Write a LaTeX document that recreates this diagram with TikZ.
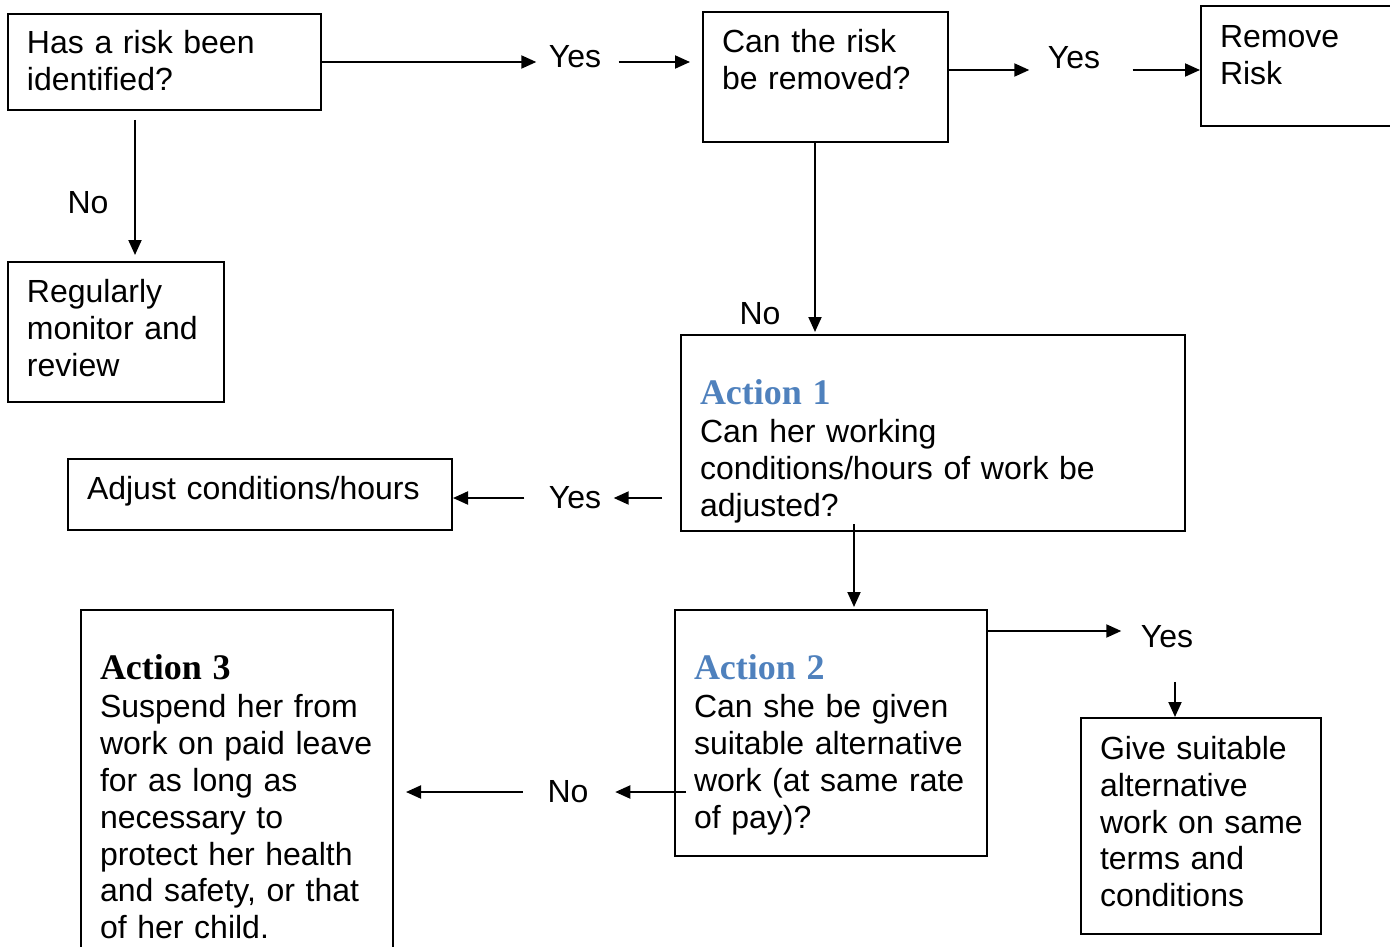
\documentclass[tikz,border=0pt]{standalone}
\usepackage{fontspec}
\setmainfont{Liberation Sans}
\newfontfamily\headfont{Liberation Serif}
\usetikzlibrary{arrows.meta}
\definecolor{actblue}{HTML}{4F81BD}
\newcommand{\acthead}[2][black]{{\headfont\bfseries\fontsize{36}{40}\selectfont\color{#1}#2}}
\tikzset{
  stepbox/.style={draw, line width=2pt, anchor=north west, align=left, inner xsep=19pt, inner ysep=0pt},
  answer/.style={inner sep=0pt},
  arr/.style={line width=2pt, -{Triangle[length=15pt,width=13pt]}},
}
\begin{document}
\begin{tikzpicture}[x=1pt, y=-1pt, font=\fontsize{32}{36.8}\selectfont]
        \useasboundingbox (0,0) rectangle (1390,947);
        \clip (0,0) rectangle (1390,947);
        \node[stepbox, text width=275pt, text height=39.7pt, text depth=56.3pt] (risk) at (7,13) {Has a risk been\\identified?};
        \node[stepbox, text width=207pt, text height=40.5pt, text depth=89.5pt] (remq) at (702,11) {Can the risk\\be removed?};
        \node[stepbox, text width=162pt, text height=41.5pt, text depth=78.5pt] (remove) at (1200,5) {Remove\\Risk};
        \node[stepbox, text width=178pt, text height=40.5pt, text depth=99.5pt] (monitor) at (7,261) {Regularly\\monitor and\\review};
        \node[stepbox, text width=466pt, text height=69.5pt, text depth=126.5pt] (adjq) at (680,334) {\acthead[actblue]{Action 1}\\[1.5pt]Can her working\\conditions/hours of work be\\adjusted?};
        \node[stepbox, text width=346pt, text height=40.5pt, text depth=30.5pt] (adjust) at (67,458) {Adjust conditions/hours};
        \node[stepbox, text width=274pt, text height=69.5pt, text depth=176.5pt] (altq) at (674,609) {\acthead[actblue]{Action 2}\\[1.5pt]Can she be given\\suitable alternative\\work (at same rate\\of pay)?};
        \node[stepbox, text width=202pt, text height=41.5pt, text depth=174.5pt] (altwork) at (1080,717) {Give suitable\\alternative\\\mbox{work on same}\\terms and\\conditions};
        \node[stepbox, text width=274pt, text height=69.5pt, text depth=290.5pt] (suspend) at (80,609) {\acthead{Action 3}\\[1.5pt]Suspend her from\\work on paid leave\\for as long as\\necessary to\\protect her health\\and safety, or that\\of her child.};
        \node[answer] (yes1) at (575,57) {Yes};
        \node[answer] (yes2) at (1074,58) {Yes};
        \node[answer] (no1) at (88,203) {No};
        \node[answer] (no2) at (760,314) {No};
        \node[answer] (yes3) at (575,498) {Yes};
        \node[answer] (yes4) at (1167,637) {Yes};
        \node[answer] (no3) at (568,792) {No};
        \coordinate (r1) at ([yshift=7pt]remq.east);
        \coordinate (n1) at ([xshift=-29.5pt]risk.south);
        \coordinate (n2) at ([xshift=-10.5pt]remq.south);
        \coordinate (n3) at ([xshift=23pt]altq.north);
        \coordinate (y4) at ([yshift=-22pt]altq.north east);
        \coordinate (n4) at ([xshift=8pt]yes4.south);
        \draw[arr, shorten >=12.4pt] (risk.east) -- (yes1.west |- risk.east);
        \draw[arr, shorten <=17.4pt, shorten >=12pt] (yes1.east |- risk.east) -- (remq.west |- risk.east);
        \draw[arr, shorten >=18.4pt] (r1) -- (r1 -| yes2.west);
        \draw[arr, shorten <=32.4pt] (r1 -| yes2.east) -- (r1 -| remove.west);
        \draw[arr, shorten <=9pt, shorten >=6pt] (n1) -- (n1 |- monitor.north);
        \draw[arr, shorten >=2pt] (n2) -- (n2 |- adjq.north);
        \draw[arr, shorten <=18pt, shorten >=12.4pt] (yes3.east -| adjq.west) -- (yes3.east);
        \draw[arr, shorten <=24.4pt] (yes3.west) -- (yes3.west -| adjust.east);
        \draw[arr, shorten <=-8pt, shorten >=2pt] (n3 |- adjq.south) -- (n3);
        \draw[arr, shorten >=19.4pt] (y4) -- (y4 -| yes4.west);
        \draw[arr, shorten <=33.5pt] (n4) -- (n4 |- altwork.north);
        \draw[arr, shorten <=-12pt, shorten >=26.6pt] (altq.west |- no3) -- (no3.east);
        \draw[arr, shorten <=24.6pt, shorten >=12pt] (no3.west) -- (no3.west -| suspend.east);
    \end{tikzpicture}
\end{document}
